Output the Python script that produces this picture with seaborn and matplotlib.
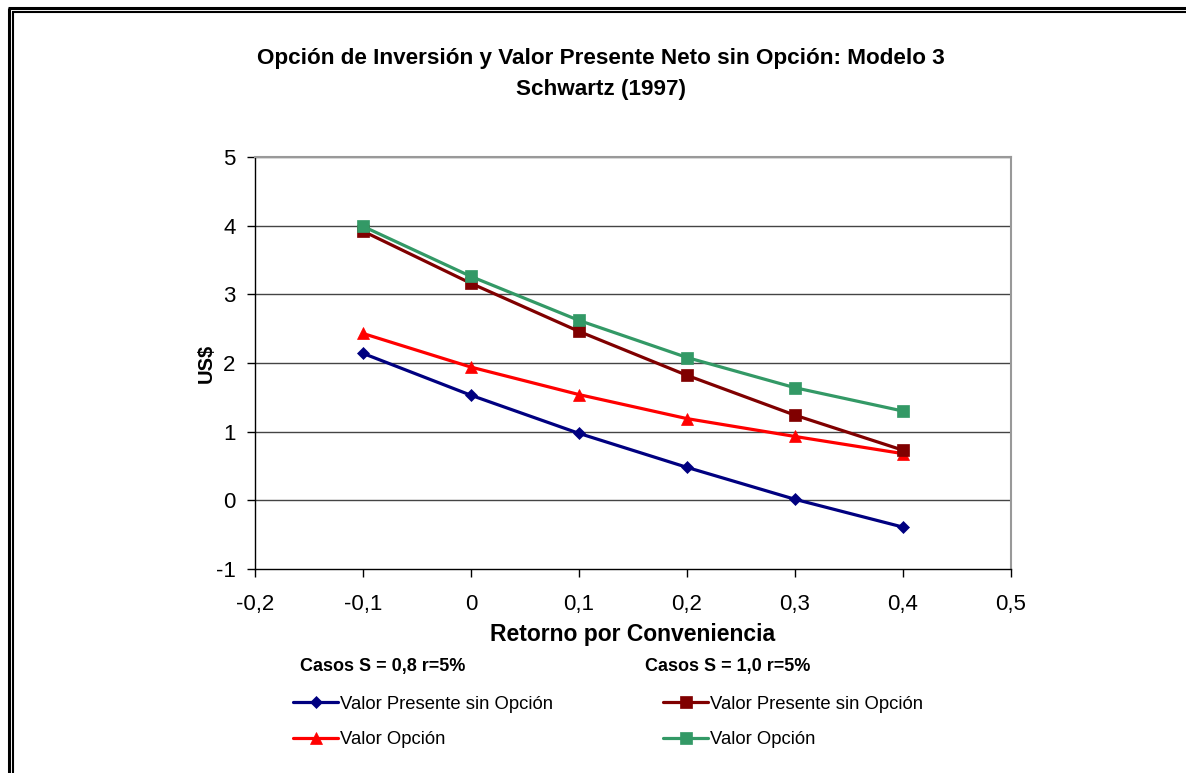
import matplotlib
matplotlib.use("Agg")
import matplotlib.pyplot as plt
from matplotlib.lines import Line2D
import seaborn as sns
import pandas as pd

# ---- data ----
retorno = [-0.1, 0.0, 0.1, 0.2, 0.3, 0.4]
vp_sin_opcion_08 = [2.14, 1.53, 0.975, 0.48, 0.015, -0.39]
valor_opcion_08 = [2.43, 1.94, 1.54, 1.19, 0.93, 0.68]
vp_sin_opcion_10 = [3.92, 3.16, 2.46, 1.82, 1.24, 0.73]
valor_opcion_10 = [3.99, 3.26, 2.62, 2.08, 1.64, 1.30]
x_ticks = [-0.2, -0.1, 0.0, 0.1, 0.2, 0.3, 0.4, 0.5]
x_ticklabels = ["-0,2", "-0,1", "0", "0,1", "0,2", "0,3", "0,4", "0,5"]
y_ticks = [-1, 0, 1, 2, 3, 4, 5]

title = "Opción de Inversión y Valor Presente Neto sin Opción: Modelo 3\nSchwartz (1997)"
xlabel = "Retorno por Conveniencia"
ylabel = "US$"
header_08 = "Casos S = 0,8 r=5%"
header_10 = "Casos S = 1,0 r=5%"
lab_vp = "Valor Presente sin Opción"
lab_vo = "Valor Opción"

sns.set_style("white")
plt.rcParams["font.family"] = ["Liberation Sans", "DejaVu Sans"]
plt.rcParams["axes.unicode_minus"] = False
for k in ["text.color", "axes.labelcolor", "xtick.color", "ytick.color"]:
    plt.rcParams[k] = "black"

W, H = 1186, 773
fig = plt.figure(figsize=(W / 100, H / 100), dpi=100)
ax = fig.add_axes([255 / W, 1 - 569 / H, (1011 - 255) / W, (569 - 157) / H])

def draw(y, color, marker, ms):
    df = pd.DataFrame({"x": retorno, "y": y})
    sns.lineplot(data=df, x="x", y="y", ax=ax, color=color, marker=marker,
                 markersize=ms, linewidth=2.3, markeredgewidth=0.5,
                 markeredgecolor=color, zorder=3)
    return ax.lines[-1]

h1 = draw(vp_sin_opcion_08, "#000080", "D", 6)
h2 = draw(valor_opcion_08, "#FF0000", "^", 9)
h3 = draw(vp_sin_opcion_10, "#800000", "s", 8.5)
h4 = draw(valor_opcion_10, "#339966", "s", 9)

ax.set_xlim(-0.2, 0.5)
ax.set_ylim(-1, 5)
ax.set_xticks(x_ticks)
ax.set_xticklabels(x_ticklabels)
ax.set_yticks(y_ticks)
ax.tick_params(axis="both", direction="out", length=6, width=1, color="black",
               labelsize=16, bottom=True, left=True)
ax.tick_params(axis="x", pad=12)
ax.tick_params(axis="y", pad=8)
for yv in y_ticks[1:]:
    ax.axhline(yv, color="#444444", linewidth=1, zorder=1)
for side in ["top", "right"]:
    ax.spines[side].set_color("#999999")
    ax.spines[side].set_linewidth(1.5)
for side in ["left", "bottom"]:
    ax.spines[side].set_color("black")
    ax.spines[side].set_linewidth(1)
ax.set_xlabel(xlabel, fontsize=16.5, fontweight="bold", labelpad=6)
ax.set_ylabel(ylabel, fontsize=14.5, fontweight="bold", labelpad=0)

fig.text(601 / W, 1 - 74 / H, title, ha="center", va="center",
         fontsize=16.2, fontweight="bold", linespacing=1.58)

# legend headers
fig.text(300 / W, 1 - 666 / H, header_08, ha="left", va="center",
         fontsize=13, fontweight="bold")
fig.text(645 / W, 1 - 666 / H, header_10, ha="left", va="center",
         fontsize=13, fontweight="bold")

# legends
for handles, xpos in [((h1, h2), 293), ((h3, h4), 663)]:
    fig.legend(handles=list(handles), labels=[lab_vp, lab_vo],
               loc="center left", bbox_to_anchor=(xpos / W, 1 - 722 / H),
               frameon=False, fontsize=13.3, handlelength=2.45,
               handletextpad=0.1, labelspacing=1.0, borderpad=0,
               borderaxespad=0)

# double frame border
def fl(xs, ys, lw):
    fig.add_artist(Line2D([x / W for x in xs], [1 - y / H for y in ys],
                          transform=fig.transFigure, color="black",
                          linewidth=lw, solid_capstyle="butt"))

fl([9, 9], [8, H + 5], 2.2)
fl([8, W + 5], [8, 8], 2.2)
fl([12.5, 12.5], [11.5, H + 5], 1.5)
fl([12, W + 5], [11.5, 11.5], 1.5)

fig.savefig("out.png", dpi=100)
